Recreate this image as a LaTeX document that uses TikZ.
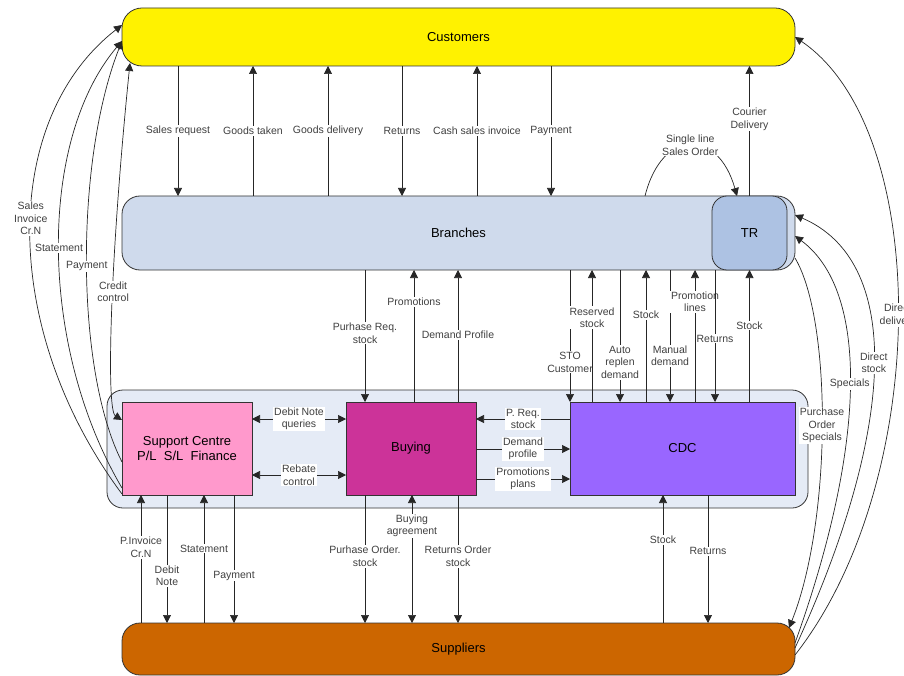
\documentclass[tikz,border=0pt]{standalone}
\usepackage{fontspec}
\setmainfont{Liberation Sans}
\usetikzlibrary{arrows.meta}

\definecolor{branc}{HTML}{CFDAEC}
\definecolor{trc}{HTML}{ADC2E3}
\definecolor{contc}{HTML}{E5EBF6}
\definecolor{supcc}{HTML}{FF99CC}
\definecolor{buyc}{HTML}{CC3399}
\definecolor{cdcc}{HTML}{9966FF}
\definecolor{suplc}{HTML}{CC6600}

\tikzset{
  blk/.style={draw=black!80, line width=0.8pt, rounded corners=18pt, inner sep=0pt, outer sep=0pt, font=\fontsize{13}{15}\selectfont},
  box/.style={draw=black!80, line width=0.8pt, inner sep=0pt, outer sep=0pt, minimum width=130pt, minimum height=93pt, align=center, font=\fontsize{13}{15}\selectfont},
  lbl/.style={fill=white, inner sep=1pt, align=center, text=black!75, font=\fontsize{10.5}{12.5}\selectfont},
  flow/.style={draw=black!85, line width=0.7pt, >={Triangle[length=8pt,width=8pt]}}
}

\begin{document}
\begin{tikzpicture}[x=1pt,y=-1pt]
            \useasboundingbox (0,0) rectangle (904,676);
            \node[blk, fill=contc, rounded corners=16pt, minimum width=701pt, minimum height=118pt] (cont) at (457.5,449) {};
            \node[box, fill=supcc] (supc) at (187,448.5) {Support Centre\\P/L\ \ S/L\ \ Finance};
            \node[box, fill=buyc] (buy) at (411,448.5) {Buying};
            \node[box, fill=cdcc, minimum width=225pt] (cdc) at (682.5,448.5) {CDC};
            \node[blk, fill=yellow, rounded corners=20pt, minimum width=673pt, minimum height=58pt] (cust) at (458.5,37) {Customers};
            \node[blk, fill=branc, minimum width=673pt, minimum height=74pt] (bran) at (458.5,233) {Branches};
            \node[blk, fill=trc, rounded corners=15pt, minimum width=75pt, minimum height=74pt] (tr) at (749.5,233) {TR};
            \node[blk, fill=suplc, minimum width=673pt, minimum height=52pt] (supl) at (458.5,649) {Suppliers};
            % customers and branches
            \foreach \x/\dir/\txt in {178/->/Sales request, 253/<-/Goods taken, 328/<-/Goods delivery, 402/->/Returns, 477/<-/Cash sales invoice, 551/->/Payment}
                \draw[flow,\dir] (cust.south -| \x,0) -- node[lbl]{\txt} (bran.north -| \x,0);
            \draw[flow,<-] (cust.south -| tr.north) -- node[lbl,pos=.41]{Courier\\Delivery} (tr.north);
            \draw[flow,->] (bran.north -| 645,0) .. controls (662,128) and (718,128) .. node[lbl]{Single line\\Sales Order} (tr.north -| 737,0);
            % branches and buying / cdc
            \foreach \x/\dir/\ps/\txt in {365/->/.48/Purhase Req.\\stock, 414/<-/.24/Promotions, 458/<-/.49/Demand Profile}
                \draw[flow,\dir] (bran.south -| \x,0) -- node[lbl,pos=\ps]{\txt} (buy.north -| \x,0);
            \foreach \x/\dir/\ps/\txt in {570/->/.7/STO\\Customer, 592/<-/.36/Reserved\\stock, 620/->/.7/Auto\\replen\\demand, 646/<-/.34/Stock, 670/->/.65/Manual\\demand, 695/<-/.24/Promotion\\lines, 715/->/.52/Returns}
                \draw[flow,\dir] (bran.south -| \x,0) -- node[lbl,pos=\ps]{\txt} (cdc.north -| \x,0);
            \draw[flow,<-] (tr.south) -- node[lbl,pos=.42]{Stock} (cdc.north -| tr.south);
            % inside the centre
            \draw[flow,<->] (supc.east |- 0,419) -- node[lbl]{Debit Note\\queries} (buy.west |- 0,419);
            \draw[flow,<->] (supc.east |- 0,475) -- node[lbl]{Rebate\\control} (buy.west |- 0,475);
            \foreach \y/\dir/\txt in {419/<-/P. Req.\\stock, 449/->/Demand\\profile, 479/->/Promotions\\plans}
                \draw[flow,\dir] (buy.east |- 0,\y) -- node[lbl]{\txt} (cdc.west |- 0,\y);
            % suppliers
            \foreach \x/\dir/\ps/\txt in {141/<-/.41/P.Invoice\\Cr.N, 167/->/.63/Debit\\Note, 204/<-/.42/Statement, 234/->/.63/Payment}
                \draw[flow,\dir] (supc.south -| \x,0) -- node[lbl,pos=\ps]{\txt} (supl.north -| \x,0);
            \foreach \x/\dir/\ps/\txt in {365/->/.48/Purhase Order.\\stock, 412/<->/.24/Buying\\agreement, 458/->/.48/Returns Order\\stock}
                \draw[flow,\dir] (buy.south -| \x,0) -- node[lbl,pos=\ps]{\txt} (supl.north -| \x,0);
            \foreach \x/\dir/\ps/\txt in {663/<-/.35/Stock, 708/->/.44/Returns}
                \draw[flow,\dir] (cdc.south -| \x,0) -- node[lbl,pos=\ps]{\txt} (supl.north -| \x,0);
            % left curves
            \draw[flow,->] (supc.west |- 0,494) .. controls (0,330) and (0,120) .. node[lbl,pos=.53]{Sales\\Invoice\\Cr.N} (cust.west |- 0,25);
            \draw[flow,->] (supc.west |- 0,488) .. controls (38,345) and (38,140) .. node[lbl,pos=.5]{Statement} (cust.west |- 0,41);
            \draw[flow,->] (supc.west |- 0,462) .. controls (75,370) and (75,160) .. node[lbl,pos=.49]{Payment} (cust.west |- 0,41);
            \draw[flow,<->] ([shift={(8,-3)}]cust.south west) .. controls (110,260) and (106,410) .. node[lbl,pos=.45]{Credit\\control} (supc.west |- 0,420);
            % right curves
            \draw[flow,->] (supl.east |- 0,655) .. controls (932,480) and (932,130) .. node[lbl]{Direct\\delivery} (cust.east);
            \draw[flow,->] (supl.east |- 0,648) .. controls (900,420) and (900,260) .. node[lbl]{Direct\\stock} (bran.east |- 0,215);
            \draw[flow,->] (supl.east |- 0,643) .. controls (868,440) and (868,290) .. node[lbl]{Specials} (bran.east |- 0,236);
            \draw[flow,->] (bran.east |- 0,258) .. controls (832,320) and (832,520) .. node[lbl]{Purchase\\Order\\Specials} ([shift={(-6,5)}]supl.north east);
        \end{tikzpicture}
\end{document}
